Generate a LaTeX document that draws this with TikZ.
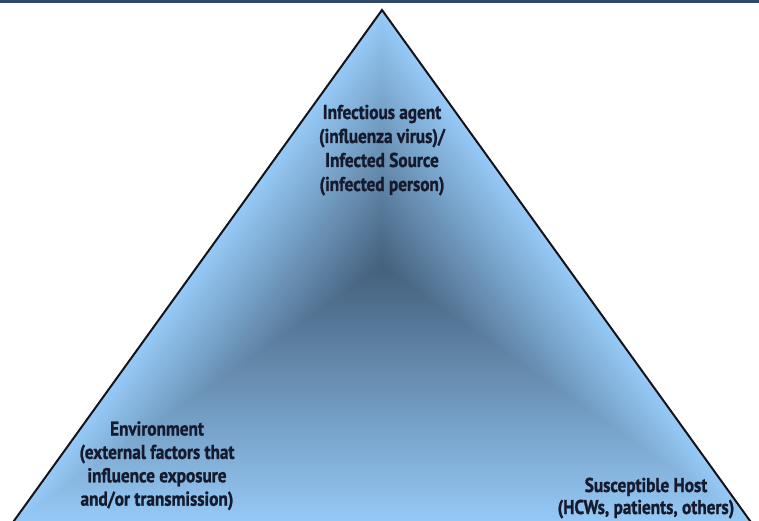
\documentclass[tikz,border=0pt]{standalone}
\usepackage{fontspec}
\usetikzlibrary{calc}
\newfontfamily\lblfont{PT Sans}[FakeStretch=0.86, BoldFeatures={FakeBold=1.2}]
\definecolor{edgeblue}{RGB}{150,202,247}
\definecolor{coreblue}{RGB}{68,96,124}
\definecolor{txtcol}{RGB}{22,26,45}
\definecolor{toplinecol}{RGB}{45,72,105}
\definecolor{edgeline}{RGB}{20,20,24}
\tikzset{
  lbl/.style={font=\lblfont\bfseries\fontsize{20}{24}\selectfont, text=txtcol, align=center, inner sep=0pt},
  rim/.style={line width=2pt, draw=edgeline, line join=miter},
  rule/.style={line width=3pt, draw=toplinecol}
}
\begin{document}
\begin{tikzpicture}[x=1pt,y=-1pt]
\useasboundingbox (0,0) rectangle (759,521);
\coordinate (A) at (382,10);
\coordinate (L) at (11,525);
\coordinate (R) at (753,525);
\coordinate (C) at (382,267.5);
\coordinate (T1) at (0,1.5);
\coordinate (T2) at (759,1.5);
\begin{scope}
\clip (0,0) rectangle (759,521);
\foreach \i in {120,119,...,1}{
  \pgfmathsetmacro\t{\i/120}
  \pgfmathsetmacro\w{100*\t}
  \colorlet{bandc}{edgeblue!\w!coreblue}
  \fill[bandc] ($(C)!\t!(A)$) -- ($(C)!\t!(L)$) -- ($(C)!\t!(R)$) -- cycle;
}
\draw[rim] (L) -- (A) -- (R);
\end{scope}
\draw[rule] (T1) -- (T2);
\node[lbl, anchor=base] (agent) at (382,191) {Infectious agent\\(influenza virus)/\\Infected Source\\(infected person)};
\node[lbl, anchor=base, font=\lblfont\bfseries\fontsize{20}{23.4}\selectfont] (env) at (157,505.7) {Environment\\(external factors that\\influence exposure\\and/or transmission)};
\node[lbl, anchor=base, font=\lblfont\bfseries\fontsize{20}{22}\selectfont] (host) at (646,514) {Susceptible Host\\(HCWs, patients, others)};
\end{tikzpicture}
\end{document}
